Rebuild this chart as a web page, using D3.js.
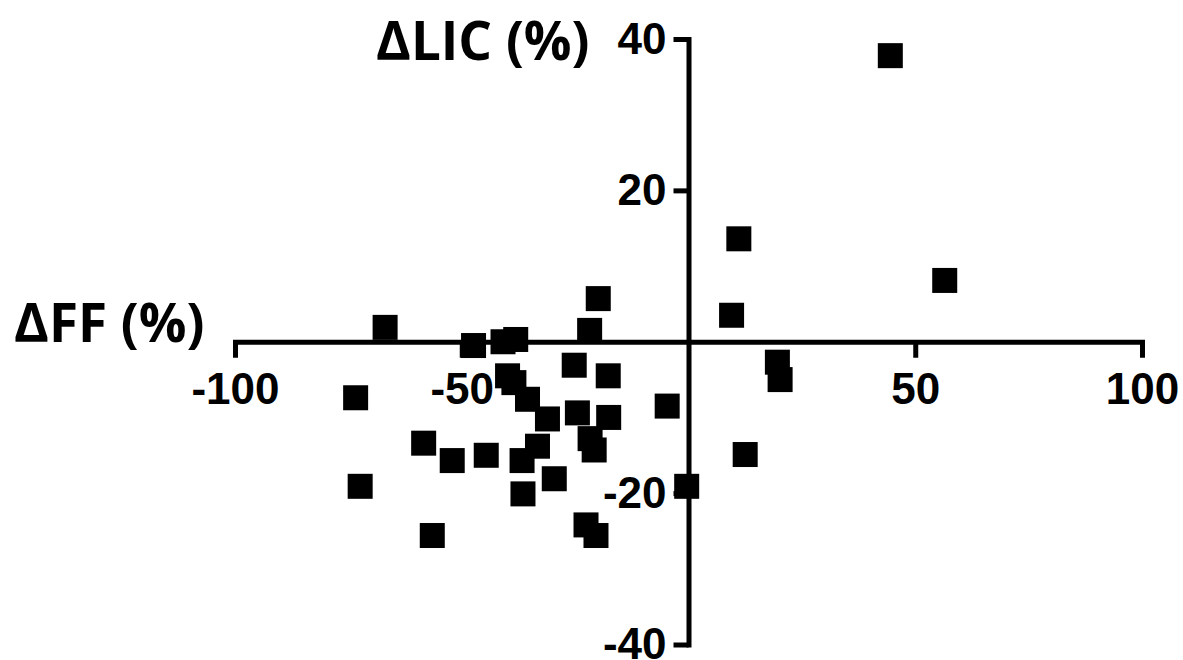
<!DOCTYPE html>
<html lang="en">
  <head>
    <meta charset="UTF-8" />
    <title>dFF vs dLIC</title>
    <script src="https://d3js.org/d3.v7.min.js"></script>
    <style>
      body { margin: 0; background: #fff; }
      .axis path, .axis line { stroke: #000; stroke-width: 5; }
      .axis text { font-family: "Liberation Sans", Arial, sans-serif; font-weight: bold; font-size: 44px; fill: #000; }
      .title { font-family: "Open Sans", sans-serif; font-weight: bold; font-size: 53px; fill: #000; }
      .pt { fill: #000; }
    </style>
  </head>
  <body>

    <svg width="1183" height="660"></svg>

<script>

// ΔFF (%) on x, ΔLIC (%) on y, one entry per patient
var dFF  = [-66.9, -47.4, -73.4, -58.4, -52.1, -44.6, -72.4, -56.5,
            -19.9, -21.8, -40.9, -38.1, -25.2, -17.7, -4.7, -0.4,
            -24.5, -17.6, -21.7, -20.8, -29.6, -36.5, -22.6, -20.4,
            -39.9, -38.5, -35.5, -31.1, -33.3, -36.7,
            44.5, 11.1, 56.5, 9.5, 19.6, 20.2, 12.5];
var dLIC = [1.9, -0.5, -7.4, -13.4, -15.7, -15.0, -19.1, -25.6,
            5.7, 1.5, 0.0, 0.3, -3.1, -4.5, -8.5, -19.1,
            -9.4, -10.0, -12.8, -14.3, -18.1, -20.1, -24.2, -25.6,
            -4.5, -5.4, -7.6, -10.2, -13.8, -15.7,
            37.8, 13.6, 8.1, 3.5, -2.7, -5.0, -14.9];

var xTicks = [-100, -50, 50, 100];
var yTicks = [40, 20, -20, -40];

var svg = d3.select("svg");

var x = d3.scaleLinear().domain([-100, 100]).range([235, 1142]);
var y = d3.scaleLinear().domain([-40, 40]).range([644.5, 39]);

var size = 25;

// plain hyphen, not the unicode minus d3 uses by default
var fmt = function(d) { return String(d); };

// x axis crosses at y = 0
svg.append("g")
   .attr("class", "axis")
   .attr("transform", "translate(0," + y(0) + ")")
   .call(d3.axisBottom(x).tickValues(xTicks).tickFormat(fmt).tickSize(16).tickSizeOuter(0).tickPadding(15))

// y axis crosses at x = 0
svg.append("g")
   .attr("class", "axis")
   .attr("transform", "translate(" + x(0) + ",0)")
   .call(d3.axisLeft(y).tickValues(yTicks).tickFormat(fmt).tickSize(15).tickSizeOuter(0).tickPadding(7))

svg.selectAll(".axis path").attr("stroke-linecap", "square");

svg.append("text")
   .attr("class", "title")
   .attr("x", 376)
   .attr("y", 60)
   .text("ΔLIC (%)");

svg.append("text")
   .attr("class", "title")
   .attr("x", 14)
   .attr("y", 342)
   .text("ΔFF (%)");

var pts = dFF.map(function(d, i) { return [d, dLIC[i]]; });

svg.selectAll(".pt")
   .data(pts)
   .enter().append("rect")
   .attr("class", "pt")
   .attr("x", function(d) { return x(d[0]) - size / 2; })
   .attr("y", function(d) { return y(d[1]) - size / 2; })
   .attr("width", size)
   .attr("height", size);

</script>

  </body>
</html>
